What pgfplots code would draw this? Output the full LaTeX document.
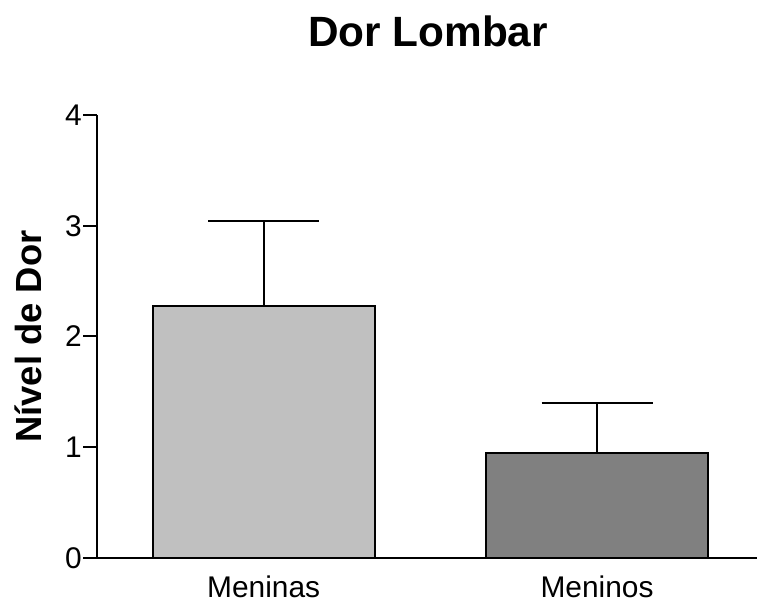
\documentclass[border=0pt]{standalone}
\usepackage{pgfplots}
\pgfplotsset{compat=1.18}
\usepackage{fontspec}
\setmainfont{Liberation Sans}
\definecolor{lightbar}{HTML}{C0C0C0}
\definecolor{darkbar}{HTML}{808080}
\newcommand\tickfont{\fontsize{30}{36}\selectfont}
\begin{document}
\begin{tikzpicture}
\path[use as bounding box] (0,0) rectangle (757bp,603bp);
\begin{axis}[
  at={(97bp,45bp)}, anchor=south west,
  scale only axis, width=660bp, height=443bp,
  xmin=-0.5, xmax=1.48, ymin=0, ymax=4,
  axis lines=left, axis line style={-, line width=2bp},
  xtick={0,1}, xticklabels={Meninas,Meninos},
  ytick={0,1,2,3,4},
  tick align=outside, major tick length=14bp,
  xtick style={draw=none},
  ytick style={line width=2bp, black},
  /pgf/number format/assume math mode=true,
  every tick label/.append style={font=\tickfont},
  yticklabel style={inner sep=1bp},
  xticklabel style={anchor=base, yshift=-25bp},
  clip=false,
]
\addplot[ybar, bar width=0.666, bar shift=0pt, fill=lightbar, draw=black, line width=2bp,
  error bars/.cd, y dir=plus, y explicit,
  error bar style={line width=2bp, black},
  error mark options={rotate=90, mark size=55.5bp, line width=2bp, black}]
  coordinates {(0,2.275) +- (0,0.77)};
\addplot[ybar, bar width=0.666, bar shift=0pt, fill=darkbar, draw=black, line width=2bp,
  error bars/.cd, y dir=plus, y explicit,
  error bar style={line width=2bp, black},
  error mark options={rotate=90, mark size=55.5bp, line width=2bp, black}]
  coordinates {(1,0.945) +- (0,0.455)};
\end{axis}
\node[anchor=base, font=\bfseries\fontsize{42.5}{50}\selectfont] at (428bp,556bp) {Dor Lombar};
\node[rotate=90, anchor=base, font=\bfseries\fontsize{36.5}{42}\selectfont] at (41bp,266.5bp) {Nível de Dor};
\end{tikzpicture}
\end{document}
